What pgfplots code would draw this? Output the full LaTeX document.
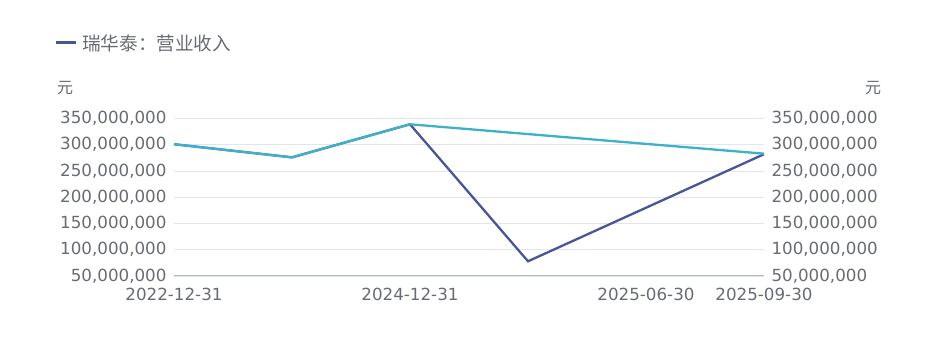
\documentclass[border=0pt]{standalone}
\usepackage{fontspec}
\setmainfont{DejaVu Sans}
\newfontfamily\cjk{Noto Sans CJK SC}
\usepackage{pgfplots}
\pgfplotsset{compat=1.18}
\definecolor{txt}{RGB}{105,107,116}
\definecolor{darkline}{RGB}{74,85,150}
\definecolor{tealline}{RGB}{62,176,200}
\definecolor{gridc}{RGB}{224,230,241}
\definecolor{axisc}{RGB}{180,182,200}
\begin{document}
\begin{tikzpicture}
\path[use as bounding box] (0,0) rectangle (937pt,339pt);
\pgfplotsset{
  common/.style={
    at={(174pt,63pt)}, anchor=south west,
    width=590pt, height=157.5pt, scale only axis,
    xmin=0, xmax=5, ymin=50000000, ymax=350000000,
    ytick={50000000,100000000,150000000,200000000,250000000,300000000,350000000},
    scaled y ticks=false,
    /pgf/number format/assume math mode=true,
    /pgf/number format/fixed, /pgf/number format/precision=0,
    /pgf/number format/1000 sep={,},
    tick label style={font=\fontsize{16.7}{18}\selectfont, text=txt},
    major tick length=0pt,
  }
}
\begin{axis}[common,
    axis x line*=bottom, axis y line*=left,
    y axis line style={draw=none},
    x axis line style={color=axisc, line width=1pt, -},
    xtick={0,2,4,5},
    xticklabels={2022-12-31,2024-12-31,2025-06-30,2025-09-30},
    xticklabel style={yshift=-9pt},
    yticklabel style={xshift=-4pt},
    ymajorgrids, grid style={color=gridc, line width=0.8pt},
    clip=false]
\addplot[color=darkline, line width=2.3pt, mark=none] coordinates {
  (0,301000000) (1,276000000) (2,339000000) (3,78000000) (5,282000000)
};
\addplot[color=tealline, line width=2.3pt, mark=none] coordinates {
  (0,301000000) (1,276000000) (2,339000000) (5,283000000)
};
\end{axis}
\begin{axis}[common,
    axis x line=none, axis y line*=right, y axis line style={draw=none},
    xtick=\empty,
    yticklabel style={xshift=4pt}]
\end{axis}
\draw[darkline, line width=3pt] (56pt,296pt) -- (76pt,296pt);
\node[anchor=west, text=txt, font=\cjk\fontsize{18.6}{20}\selectfont, inner sep=0pt] at (82pt,296pt) {瑞华泰：营业收入};
\node[anchor=center, text=txt, font=\cjk\fontsize{16}{18}\selectfont, inner sep=0pt] at (65pt,251pt) {元};
\node[anchor=center, text=txt, font=\cjk\fontsize{16}{18}\selectfont, inner sep=0pt] at (873pt,251pt) {元};
\end{tikzpicture}
\end{document}
